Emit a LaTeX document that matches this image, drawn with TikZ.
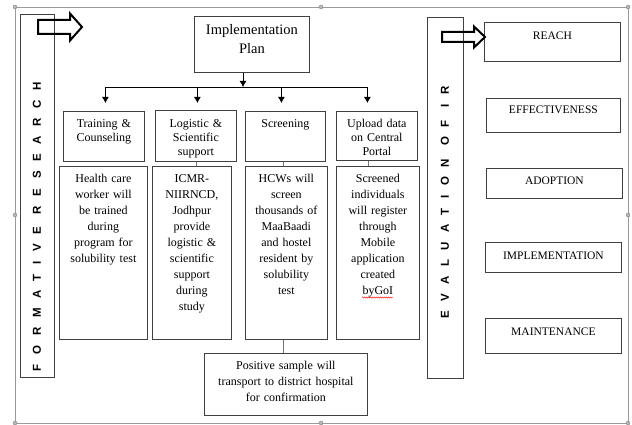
\documentclass[tikz,border=0pt]{standalone}
\usepackage{fontspec}
\setmainfont{Liberation Serif}
\newfontfamily\sidefont[LetterSpace=84]{Liberation Sans}
\usepackage{tikz}
\usetikzlibrary{arrows.meta}
\usetikzlibrary{positioning}
\usetikzlibrary{decorations.pathmorphing}
\usepackage{xcolor}
\definecolor{boxline}{gray}{0.25}
\definecolor{linkline}{gray}{0.45}
\definecolor{frameline}{gray}{0.6}

\tikzset{
  box/.style={draw=boxline, line width=0.8pt, align=center, inner sep=0pt, anchor=north west},
  sz/.style n args={3}{text width=#1, text height=#2, text depth=#3},
  body/.style={font=\fontsize{12}{16}\selectfont},
  head/.style={font=\fontsize{12}{14}\selectfont},
  caps/.style={font=\fontsize{11.5}{13}\selectfont},
  side/.style={rotate=90, font=\sidefont\bfseries\fontsize{11.5}{12}\selectfont},
  arr/.style={-{Latex[length=6pt,width=7pt]}, line width=0.8pt},
  link/.style={draw=linkline, line width=0.8pt},
  hollow/.style={line width=2pt, line join=miter},
  handle/.style={fill=gray!55, draw=gray!90!black, line width=0.3pt},
  squiggle/.style={red, line width=0.4pt, decorate, decoration={snake, amplitude=0.6pt, segment length=2pt}}
}

\begin{document}
\begin{tikzpicture}[x=1pt,y=-1pt]
\useasboundingbox (0,0) rectangle (632,425);
\draw[frameline, line width=0.8pt] (15,7) rectangle (628,423);
\foreach \hx/\hy in {15/7,321/7,628/7,15/215,628/215,15/423,321/423,628/423}
  \filldraw[handle] (\hx,\hy) circle (2pt);
% side bars
\node[box, minimum width=34pt, minimum height=363pt] (form) at (20,14) {};
\node[side] (formtxt) at (37,226.5) {FORMATIVE RESEARCH};
\node[box, minimum width=36pt, minimum height=361pt] (eval) at (427,17) {};
\node[side] (evaltxt) at (445,202.5) {EVALUATION OF IR};
% plan
\node[box, sz={115pt}{18pt}{38pt}, font=\fontsize{14.5}{19}\selectfont] (plan) at (194,16) {Implementation\\Plan};
\node[box, head, sz={81pt}{16pt}{34pt}] (train) at (63,111) {Training \&\\Counseling};
\node[box, head, sz={81pt}{17pt}{34pt}] (logis) at (155,110) {Logistic \&\\Scientific\\support};
\node[box, head, sz={80pt}{16pt}{34pt}] (screen) at (245,111) {Screening};
\node[box, head, sz={81pt}{16pt}{33pt}] (upload) at (336,111) {Upload data\\on Central\\Portal};
\node[box, body, sz={88pt}{16pt}{157pt}] (health) at (59,166) {Health care\\worker will\\be trained\\during\\program for\\solubility test};
\node[box, body, sz={79pt}{16pt}{157pt}] (icmr) at (152,166) {ICMR-\\NIIRNCD,\\Jodhpur\\provide\\logistic \&\\scientific\\support\\during\\study};
\node[box, body, sz={82pt}{16pt}{157pt}] (hcw) at (245,166) {HCWs will\\screen\\thousands of\\MaaBaadi\\and hostel\\resident by\\solubility\\test};
\node[box, body, sz={83pt}{16pt}{157pt}] (screened) at (336,166) {Screened\\individuals\\will register\\through\\Mobile\\application\\created\\byGoI};
\node[box, body, sz={163pt}{16pt}{46pt}] (pos) at (204,353) {Positive sample will\\transport to district hospital\\for confirmation};
% RE-AIM boxes
\node[box, caps, sz={136pt}{17pt}{22pt}] (reach) at (484,22) {REACH};
\node[box, caps, sz={134pt}{15.5pt}{18.5pt}] (effect) at (486,98) {EFFECTIVENESS};
\node[box, caps, sz={136pt}{16.5pt}{13.5pt}] (adopt) at (486,168) {ADOPTION};
\node[box, caps, sz={136pt}{17.5pt}{12.5pt}] (implem) at (485,242) {IMPLEMENTATION};
\node[box, caps, sz={136pt}{17pt}{18pt}] (maint) at (485,318) {MAINTENANCE};
% tree arrows
\coordinate (split) at (243,87);
\draw[arr] (plan.south -| split) -- (split);
\draw[arr] (split) -| ([xshift=1.5, yshift=8]train.north);
\draw[arr] (split) -| ([xshift=1.5, yshift=7]logis.north);
\draw[arr] (split) -| ([xshift=-4, yshift=8]screen.north);
\draw[arr] (split) -| ([xshift=-9.5, yshift=8]upload.north);
% links
\draw[link] (logis.south) -- (logis.south |- icmr.north);
\draw[link] ([xshift=-2]screen.south) -- ([xshift=-2]screen.south |- hcw.north);
\draw[link] ([xshift=-8.5]upload.south) -- ([xshift=-8.5]upload.south |- screened.north);
\draw[link] ([xshift=-3]hcw.south) -- ([xshift=-3]hcw.south |- pos.north);
% spell-check mark under byGoI
\draw[squiggle] (362,297.5) -- (393,297.5);
% block arrows
\draw[hollow] (38,20)--(70,20)--(70,13.5)--(82,27)--(70,40.5)--(70,34)--(38,34)--cycle;
\draw[hollow] (442,32)--(474,32)--(474,26.5)--(485,37)--(474,47.5)--(474,42)--(442,42)--cycle;
\end{tikzpicture}
\end{document}
